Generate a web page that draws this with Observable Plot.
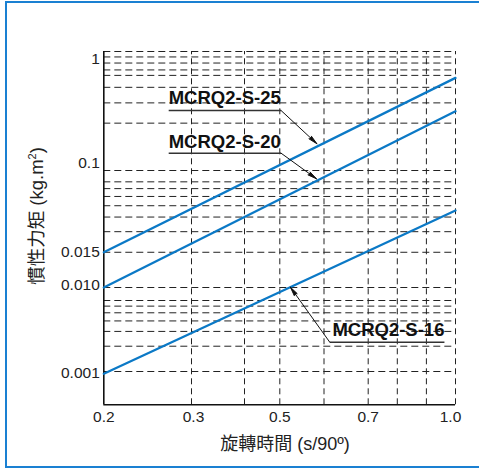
<!DOCTYPE html>
<html>
<head>
<meta charset="utf-8">
<script src="https://cdn.jsdelivr.net/npm/d3@7"></script>
<script src="https://cdn.jsdelivr.net/npm/@observablehq/plot@0.6"></script>
<style>
html,body{margin:0;padding:0;background:#fff;}
#wrap{position:relative;width:479px;height:468px;overflow:hidden;font-family:"Liberation Sans","Noto Sans CJK TC",Arial,sans-serif;color:#222;}
#frame{position:absolute;left:5px;top:1px;width:600px;height:462.5px;border:2px solid #1a80d2;}
#chart{position:absolute;left:0;top:0;}
#xtitle{position:absolute;left:185px;top:434px;width:200px;line-height:20px;text-align:center;font-size:18px;white-space:nowrap;}
#ytitle{position:absolute;left:-63px;top:206px;width:200px;line-height:20px;text-align:center;font-size:18.5px;white-space:nowrap;transform:rotate(-90deg);transform-origin:50% 50%;}
#ytitle sup{font-size:11px;vertical-align:7px;line-height:0;}
</style>
</head>
<body>
<div id="wrap">
  <div id="frame"></div>
  <div id="chart"></div>
  <div id="xtitle">旋轉時間 (s/90º)</div>
  <div id="ytitle">慣性力矩 (kg.m<sup>2</sup>)</div>
</div>
<script>
// ---- axis ticks / grid ----
const xTickValues = [0.2, 0.3, 0.5, 0.7, 1.0];
const xTickLabels = ["0.2", "0.3", "0.5", "0.7", "1.0"];
const xGridValues = [0.3, 0.4, 0.5, 0.6, 0.7, 0.8, 0.9, 1.0];
const yTickValues = [1, 0.1, 0.02, 0.01, 0.001];
const yTickLabels = ["1", "0.1", "0.015", "0.010", "0.001"];
const yGridValues = [
  1, 0.9, 0.8, 0.7, 0.63, 0.5, 0.37, 0.25, 0.1,
  0.08, 0.07, 0.06, 0.05, 0.04, 0.03, 0.02, 0.01,
  0.007, 0.006, 0.005, 0.004, 0.003, 0.002, 0.001
];
const xMin = 0.2, xMax = 1.0, yMin = 0.0004, yMax = 1;

// ---- series ----
const seriesNames = ["MCRQ2-S-25", "MCRQ2-S-20", "MCRQ2-S-16"];
const seriesX = [0.2, 1.0];
const seriesS25 = [0.02, 0.6];
const seriesS20 = [0.01, 0.315];
const seriesS16 = [0.00094, 0.0455];

// ---- annotations (data coordinates) ----
const annTextX = [0.274, 0.274, 0.619];
const annTextY = [0.4027, 0.173, 0.003076];
const annLineX1 = [0.274, 0.274, 0.613];
const annLineX2 = [0.503, 0.503, 0.962];
const annLineY = [0.319, 0.1397, 0.002234];
const annFromX = [0.503, 0.503, 0.613];
const annTipX = [0.584, 0.583, 0.524];
const annTipY = [0.1677, 0.0849, 0.01006];

const seriesY = [seriesS25, seriesS20, seriesS16];
const rows = seriesNames.flatMap((name, i) => seriesX.map((x, j) => ({series: name, x, y: seriesY[i][j]})));
const ann = seriesNames.map((name, i) => ({
  name, tx: annTextX[i], ty: annTextY[i], lx1: annLineX1[i], lx2: annLineX2[i], ly: annLineY[i],
  fx: annFromX[i], px: annTipX[i], py: annTipY[i]
}));

const yLabelDy = [8, -7.5, 0, -2, 2];
const xLabelDx = [0, 2, 0, 0, -5];

const chart = Plot.plot({
  width: 479,
  height: 468,
  margin: 0,
  style: {fontFamily: "'Liberation Sans', Arial, sans-serif", background: "transparent", overflow: "visible"},
  x: {type: "linear", domain: [0.2, 0.3, 0.4, 0.5, 0.7, 1.0], range: [103.3, 191, 244, 279.3, 367.7, 455], axis: null},
  y: {type: "log", domain: [0.0004, 0.001, 0.01, 0.1, 1], range: [404.3, 371, 287, 170, 51], axis: null},
  marks: [
    Plot.ruleY(yGridValues, {y: d => d, x1: () => xMin, x2: () => xMax, stroke: "#222", strokeWidth: 1, strokeDasharray: "7,4"}),
    Plot.ruleX(xGridValues, {x: d => d, y1: () => yMin, y2: () => yMax, stroke: "#222", strokeWidth: 1, strokeDasharray: "6,4"}),
    Plot.ruleX([xMin], {x: d => d, y1: () => yMin, y2: () => yMax, stroke: "#111", strokeWidth: 1.6}),
    Plot.ruleY([yMin], {y: d => d, x1: () => xMin, x2: () => xMax, stroke: "#111", strokeWidth: 1.6}),
    Plot.line(rows, {x: "x", y: "y", z: "series", stroke: "#0b79c6", strokeWidth: 2.3}),
    ...xTickValues.map((v, i) => Plot.text([v], {x: d => d, y: () => yMin, text: () => xTickLabels[i], dy: 12.5, dx: xLabelDx[i], fontSize: 15.5, fill: "#222"})),
    ...yTickValues.map((v, i) => Plot.text([v], {x: () => xMin, y: d => d, text: () => yTickLabels[i], dx: -4, dy: yLabelDy[i], textAnchor: "end", fontSize: 15.5, fill: "#222"})),
    Plot.link(ann, {x1: "lx1", x2: "lx2", y1: "ly", y2: "ly", stroke: "#333", strokeWidth: 1.4}),
    Plot.arrow(ann, {x1: "fx", y1: "ly", x2: "px", y2: "py", stroke: "#111", fill: "#111", strokeWidth: 1, headLength: 14, headAngle: 22}),
    Plot.text(ann, {x: "tx", y: "ty", text: "name", textAnchor: "start", fontSize: 18.5, fontWeight: "bold", fill: "#111"})
  ]
});
document.getElementById("chart").appendChild(chart);
</script>
</body>
</html>
